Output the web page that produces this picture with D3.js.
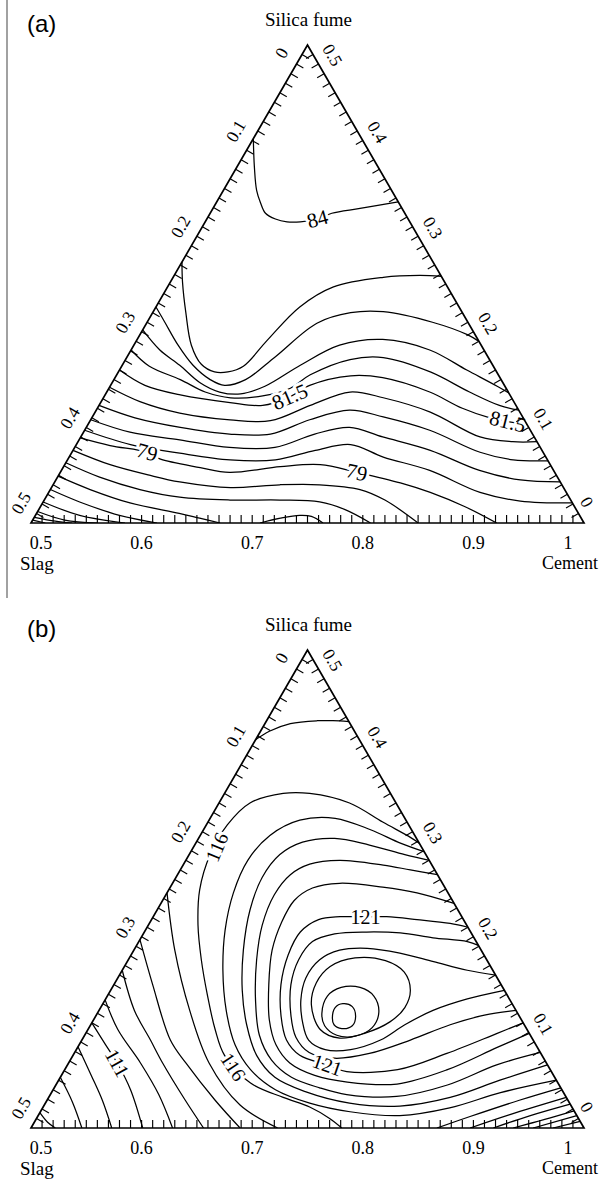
<!DOCTYPE html>
<html><head><meta charset="utf-8">
<script src="https://cdn.jsdelivr.net/npm/d3@7"></script>
<style>body{margin:0;background:#fff}svg{display:block}</style>
</head><body>
<script>
// ---------- data ----------
const bottomTicks = [0.5, 0.6, 0.7, 0.8, 0.9, 1];
const bottomTickText = ["0.5", "0.6", "0.7", "0.8", "0.9", "1"];
const sideTicks = [0, 0.1, 0.2, 0.3, 0.4, 0.5];
const sideTickText = ["0", "0.1", "0.2", "0.3", "0.4", "0.5"];
const vertexNames = ["Slag", "Cement", "Silica fume"];
const panelLetters = ["(a)", "(b)"];

// contour lines, points are [cement, silica fume] mass fractions
const contourLinesA = [
 [[.500,.402],[.516,.372],[.530,.348],[.540,.335],[.550,.324],[.562,.318],[.574,.315],[.586,.315],[.600,.318],[.610,.324],[.633,.329],[.664,.336]],
 [[.500,.273],[.511,.252],[.530,.220],[.552,.186],[.571,.166],[.587,.158],[.599,.158],[.610,.164],[.618,.191],[.630,.226],[.650,.247],[.690,.257],[.722,.259],[.742,.258]],
 [[.500,.226],[.516,.210],[.540,.186],[.564,.165],[.587,.150],[.603,.144],[.619,.150],[.634,.174],[.654,.209],[.679,.220],[.708,.221],[.758,.210],[.796,.197],[.810,.190]],
 [[.500,.202],[.526,.181],[.552,.165],[.579,.147],[.602,.137],[.622,.135],[.640,.143],[.661,.165],[.686,.186],[.722,.192],[.770,.181],[.814,.160],[.850,.143],[.864,.136]],
 [[.500,.181],[.525,.164],[.560,.150],[.589,.137],[.615,.131],[.643,.133],[.664,.141],[.675,.155],[.703,.171],[.732,.173],[.782,.158],[.828,.137],[.862,.123],[.882,.118]],
 [[.500,.160],[.531,.144],[.568,.134],[.617,.126],[.648,.123],[.668,.132],[.680,.144],[.712,.154],[.742,.152],[.792,.137],[.830,.120],[.860,.110],[.897,.103]],
 [[.500,.142],[.535,.127],[.577,.115],[.626,.108],[.663,.107],[.691,.123],[.720,.137],[.753,.131],[.803,.116],[.861,.090],[.893,.085],[.915,.085]],
 [[.500,.123],[.539,.110],[.585,.100],[.633,.093],[.670,.093],[.698,.108],[.729,.118],[.763,.111],[.812,.097],[.869,.074],[.903,.066],[.935,.065]],
 [[.500,.108],[.542,.095],[.591,.087],[.640,.079],[.681,.079],[.710,.093],[.738,.100],[.773,.090],[.823,.076],[.878,.055],[.920,.045],[.957,.043]],
 [[.500,.097],[.549,.082],[.598,.073],[.647,.066],[.688,.066],[.719,.076],[.748,.082],[.784,.069],[.833,.055],[.890,.032],[.931,.023],[.979,.021]],
 [[.500,.089],[.531,.081],[.568,.074],[.583,.067],[.624,.058],[.653,.053],[.696,.059],[.731,.061],[.768,.053],[.813,.042],[.845,.032],[.884,.017],[.921,0]],
 [[.500,.076],[.541,.061],[.582,.050],[.613,.043],[.662,.037],[.705,.040],[.741,.040],[.780,.035],[.808,.024],[.850,0]],
 [[.500,.063],[.538,.048],[.581,.035],[.621,.027],[.668,.024],[.713,.024],[.750,.022],[.777,.014],[.807,0]],
 [[.500,.049],[.536,.035],[.579,.021],[.629,.010],[.650,.005],[.671,0]],
 [[.707,0],[.723,.005],[.739,.008],[.750,.007],[.764,0]],
 [[.500,.035],[.533,.022],[.576,.008],[.614,0]],
 [[.500,.022],[.540,.008],[.585,0]],
 [[.500,.012],[.529,.003],[.560,0]],
 [[.500,.006],[.521,.002],[.537,0]],
 [[.500,.003],[.513,0]]
];
const closedA = contourLinesA.map(() => false);
const labelTextA = ["84", "81.5", "81.5", "79", "79"];
const labelLineA = [0, 5, 5, 10, 10];
const labelPosA = [[.600,.318],[.668,.132],[.878,.106],[.568,.074],[.768,.053]];

const contourLinesB = [
 [[.500,.406],[.508,.415],[.523,.423],[.546,.426],[.560,.426],[.575,.425]],
 [[.702,.298],[.691,.304],[.658,.320],[.618,.340],[.577,.350],[.553,.350],[.528,.340],[.519,.317],[.519,.286],[.528,.249],[.545,.212],[.566,.176],[.590,.139],[.615,.103],[.637,.076],[.675,.047],[.712,.032],[.741,.022],[.765,.010],[.781,0]],
 [[.711,.289],[.685,.298],[.651,.312],[.613,.324],[.582,.322],[.563,.306],[.556,.280],[.560,.246],[.572,.207],[.591,.165],[.615,.123],[.641,.087],[.668,.061],[.701,.040],[.739,.026],[.780,.017],[.827,.013],[.868,.021],[.906,.037],[.950,.050]],
 [[.720,.280],[.695,.286],[.658,.296],[.623,.303],[.596,.299],[.582,.286],[.578,.262],[.584,.228],[.599,.186],[.619,.144],[.641,.108],[.666,.076],[.694,.053],[.729,.038],[.775,.026],[.822,.023],[.863,.032],[.899,.050],[.934,.066]],
 [[.735,.265],[.708,.270],[.681,.275],[.639,.280],[.614,.276],[.602,.265],[.598,.244],[.603,.212],[.616,.176],[.636,.134],[.658,.097],[.682,.071],[.709,.053],[.740,.042],[.768,.035],[.814,.033],[.854,.045],[.888,.066],[.921,.079]],
 [[.765,.235],[.726,.246],[.692,.252],[.651,.256],[.629,.251],[.619,.238],[.619,.215],[.625,.186],[.640,.150],[.659,.113],[.678,.087],[.700,.068],[.729,.055],[.762,.048],[.808,.046],[.846,.061],[.879,.084],[.901,.099]],
 [[.790,.210],[.772,.214],[.740,.218],[.711,.221],[.692,.221],[.669,.221],[.651,.218],[.641,.205],[.642,.181],[.651,.150],[.667,.118],[.685,.092],[.705,.076],[.735,.066],[.756,.059],[.801,.061],[.837,.078],[.872,.099],[.890,.110]],
 [[.809,.191],[.797,.195],[.764,.199],[.732,.204],[.701,.205],[.673,.203],[.657,.195],[.654,.176],[.660,.150],[.676,.118],[.692,.095],[.712,.079],[.738,.073],[.767,.078],[.797,.092],[.825,.108],[.851,.118],[.877,.123]],
 [[.840,.160],[.812,.165],[.777,.174],[.742,.183],[.710,.188],[.686,.186],[.673,.176],[.670,.157],[.677,.134],[.690,.111],[.705,.092],[.725,.082],[.748,.082],[.770,.092],[.784,.108],[.802,.123],[.827,.135],[.856,.144]],
 [[.689,.129],[.682,.152],[.686,.169],[.704,.178],[.733,.175],[.756,.163],[.771,.144],[.775,.126],[.769,.111],[.752,.099],[.732,.094],[.710,.103]],
 [[.703,.120],[.699,.138],[.707,.147],[.724,.147],[.741,.138],[.754,.121],[.756,.105],[.745,.096],[.728,.097],[.712,.107]],
 [[.715,.115],[.712,.126],[.717,.130],[.727,.127],[.735,.117],[.737,.107],[.729,.104],[.720,.108]],
 [[.500,.246],[.537,.186],[.582,.123],[.627,.068],[.677,.024],[.723,0]],
 [[.500,.197],[.535,.150],[.580,.092],[.606,.068],[.652,.029],[.689,0]],
 [[.500,.165],[.532,.123],[.562,.092],[.585,.068],[.625,.029],[.656,0]],
 [[.500,.134],[.527,.103],[.565,.068],[.598,.035],[.628,0]],
 [[.500,.110],[.524,.087],[.544,.068],[.570,.040],[.601,0]],
 [[.500,.085],[.527,.055],[.550,.029],[.573,0]],
 [[.500,.053],[.524,.027],[.546,0]],
 [[.500,.016],[.512,.006],[.522,0]],
 [[.867,0],[.891,.012],[.927,.029],[.958,.042]],
 [[.897,0],[.926,.014],[.968,.032]],
 [[.918,0],[.945,.013],[.975,.025]],
 [[.936,0],[.960,.009],[.982,.018]],
 [[.954,0],[.987,.013]],
 [[.972,0],[.993,.007]]
];
const closedB = contourLinesB.map((d, i) => i >= 9 && i <= 11);
const labelTextB = ["116", "116", "121", "121", "111"];
const labelLineB = [1, 1, 6, 6, 16];
const labelPosB = [[.521,.294],[.651,.064],[.692,.221],[.735,.066],[.544,.068]];

// ---------- drawing ----------
const W = 601, H = 1179;
const SERIF = "'Liberation Serif','Times New Roman',Times,serif";
const SANS = "'Liberation Sans',Arial,Helvetica,sans-serif";
const svg = d3.select("body").append("svg").attr("width", W).attr("height", H);

svg.append("line").attr("x1", 7).attr("x2", 7).attr("y1", 0).attr("y2", 598)
  .attr("stroke", "#8a8a8a").attr("stroke-width", 1.6);

const panels = [
  {id: "a", letter: panelLetters[0], top: 45, bottom: 523, lines: contourLinesA, closed: closedA,
   ltext: labelTextA, lline: labelLineA, lpos: labelPosA, lsize: 21},
  {id: "b", letter: panelLetters[1], top: 650, bottom: 1128, lines: contourLinesB, closed: closedB,
   ltext: labelTextB, lline: labelLineB, lpos: labelPosB, lsize: 20}
];

panels.forEach(p => {
  const g = svg.append("g");
  const bx = d3.scaleLinear().domain([0.5, 1]).range([31, 584]);
  const sy = d3.scaleLinear().domain([0, 0.5]).range([p.bottom, p.top]);
  const px = d => bx(d[0] + d[1] / 2), py = d => sy(d[1]);
  const proj = d => [px(d), py(d)];
  const L = proj([0.5, 0]), R = proj([1, 0]), T = proj([0.5, 0.5]);

  svg.append("clipPath").attr("id", "clip" + p.id).append("path")
    .attr("d", `M${L}L${R}L${T}Z`);

  const openLine = d3.line().x(px).y(py).curve(d3.curveCatmullRom.alpha(0.5));
  const closedLine = d3.line().x(px).y(py).curve(d3.curveCatmullRomClosed.alpha(0.5));
  const cg = g.append("g").attr("clip-path", `url(#clip${p.id})`);
  p.lines.forEach((pts, i) => {
    cg.append("path").attr("d", (p.closed[i] ? closedLine : openLine)(pts))
      .attr("fill", "none").attr("stroke", "#000").attr("stroke-width", 1.25);
  });

  // contour labels
  p.ltext.forEach((t, k) => {
    const pts = p.lines[p.lline[k]].map(proj);
    const [lx, ly] = proj(p.lpos[k]);
    let best = 0, bd = Infinity;
    pts.forEach((q, i) => { const d = (q[0]-lx)**2 + (q[1]-ly)**2; if (d < bd) { bd = d; best = i; } });
    const a = pts[Math.max(0, best - 1)], b = pts[Math.min(pts.length - 1, best + 1)];
    let ang = Math.atan2(b[1] - a[1], b[0] - a[0]) * 180 / Math.PI;
    if (ang > 90) ang -= 180; if (ang < -90) ang += 180;
    g.append("text").attr("transform", `translate(${lx},${ly}) rotate(${ang})`)
      .attr("text-anchor", "middle").attr("dominant-baseline", "central")
      .attr("font-family", SERIF).attr("font-size", p.lsize)
      .attr("stroke", "#fff").attr("stroke-width", 6).attr("paint-order", "stroke")
      .attr("stroke-linejoin", "round").attr("fill", "#000").text(t);
  });

  // triangle
  g.append("path").attr("d", `M${L}L${R}L${T}Z`).attr("fill", "none")
    .attr("stroke", "#000").attr("stroke-width", 1.7).attr("stroke-linejoin", "miter");

  // ticks every 0.01
  const tl = 8, c30 = Math.cos(Math.PI / 6), s30 = 0.5;
  const tg = g.append("g").attr("stroke", "#000").attr("stroke-width", 1.15);
  d3.range(1, 50).forEach(i => {
    const v = i / 100;
    const b0 = proj([0.5 + v, 0]);
    tg.append("line").attr("x1", b0[0]).attr("y1", b0[1]).attr("x2", b0[0]).attr("y2", b0[1] - tl);
    const l0 = proj([0.5, 0.5 - v]);
    tg.append("line").attr("x1", l0[0]).attr("y1", l0[1]).attr("x2", l0[0] + c30 * tl).attr("y2", l0[1] + s30 * tl);
    const r0 = proj([1 - v, v]);
    tg.append("line").attr("x1", r0[0]).attr("y1", r0[1]).attr("x2", r0[0] - c30 * tl).attr("y2", r0[1] + s30 * tl);
  });

  // bottom tick labels
  bottomTicks.forEach((v, i) => {
    let x = bx(v);
    if (i === 0) x += 10;
    if (i === bottomTicks.length - 1) x -= 16;
    g.append("text").attr("x", x).attr("y", p.bottom + 26).attr("text-anchor", "middle")
      .attr("font-family", SERIF).attr("font-size", 18).text(bottomTickText[i]);
  });
  // left (slag) labels
  sideTicks.forEach((v, i) => {
    const e = proj([0.5, 0.5 - v]);
    let cx = e[0] - c30 * 19, cy = e[1] - s30 * 19;
    if (i === 0) { cx = e[0] - 26; cy = e[1] + 8; }
    if (i === sideTicks.length - 1) { cx = e[0] - 10; cy = e[1] - 20; }
    g.append("text").attr("transform", `translate(${cx},${cy}) rotate(-60)`)
      .attr("text-anchor", "middle").attr("dominant-baseline", "central")
      .attr("font-family", SERIF).attr("font-size", 17.5).text(sideTickText[i]);
  });
  // right (silica fume) labels
  sideTicks.forEach((v, i) => {
    const e = proj([1 - v, v]);
    let cx = e[0] + c30 * 17, cy = e[1] - s30 * 17;
    if (i === sideTicks.length - 1) { cx = e[0] + 25; cy = e[1] + 10; }
    if (i === 0) { cx = e[0] + 3; cy = e[1] - 21; }
    g.append("text").attr("transform", `translate(${cx},${cy}) rotate(60)`)
      .attr("text-anchor", "middle").attr("dominant-baseline", "central")
      .attr("font-family", SERIF).attr("font-size", 17.5).text(sideTickText[i]);
  });

  // vertex names
  g.append("text").attr("x", 20).attr("y", p.bottom + 46.5).attr("font-family", SERIF)
    .attr("font-size", 19).text(vertexNames[0]);
  g.append("text").attr("x", 598).attr("y", p.bottom + 46).attr("text-anchor", "end")
    .attr("font-family", SERIF).attr("font-size", 18).text(vertexNames[1]);
  g.append("text").attr("x", T[0] + 1).attr("y", p.top - 19).attr("text-anchor", "middle")
    .attr("font-family", SERIF).attr("font-size", 19).text(vertexNames[2]);
  g.append("text").attr("x", 27).attr("y", p.top - 13).attr("font-family", SANS)
    .attr("font-size", 24).text(p.letter);
});
</script>
</body></html>
